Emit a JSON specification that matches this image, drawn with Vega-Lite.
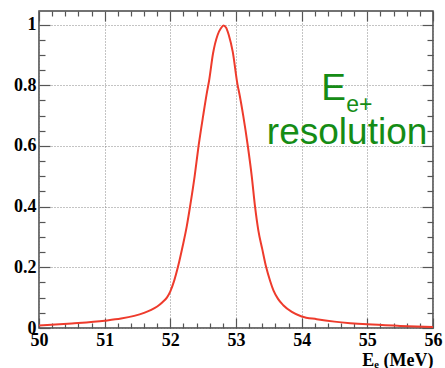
{
  "$schema": "https://vega.github.io/schema/vega-lite/v6.json",
  "width": 394,
  "height": 317,
  "autosize": {"type": "none"},
  "padding": {"left": 39, "top": 11, "right": 12, "bottom": 40},
  "background": "white",
  "config": {
    "view": {"stroke": "#444", "strokeWidth": 1.5},
    "axis": {"labelFont": "Liberation Serif", "labelFontWeight": "bold", "labelFontSize": 18, "labelColor": "#000"}
  },
  "data": {
    "values": [
      {"x": 50.0, "y": 0.008}, {"x": 50.5, "y": 0.015}, {"x": 51.0, "y": 0.024},
      {"x": 51.25, "y": 0.031}, {"x": 51.45, "y": 0.040}, {"x": 51.6, "y": 0.050},
      {"x": 51.7, "y": 0.059}, {"x": 51.8, "y": 0.071}, {"x": 51.88, "y": 0.085},
      {"x": 51.95, "y": 0.101}, {"x": 52.0, "y": 0.121}, {"x": 52.06, "y": 0.157},
      {"x": 52.12, "y": 0.205}, {"x": 52.19, "y": 0.272}, {"x": 52.25, "y": 0.335},
      {"x": 52.30, "y": 0.400}, {"x": 52.37, "y": 0.500}, {"x": 52.43, "y": 0.600},
      {"x": 52.50, "y": 0.700}, {"x": 52.56, "y": 0.780}, {"x": 52.59, "y": 0.815},
      {"x": 52.65, "y": 0.905}, {"x": 52.72, "y": 0.966}, {"x": 52.77, "y": 0.988},
      {"x": 52.81, "y": 0.997}, {"x": 52.85, "y": 0.990}, {"x": 52.89, "y": 0.966},
      {"x": 52.95, "y": 0.911}, {"x": 53.025, "y": 0.800}, {"x": 53.05, "y": 0.774},
      {"x": 53.11, "y": 0.700}, {"x": 53.18, "y": 0.600}, {"x": 53.24, "y": 0.500},
      {"x": 53.29, "y": 0.400}, {"x": 53.34, "y": 0.322}, {"x": 53.40, "y": 0.260},
      {"x": 53.46, "y": 0.200}, {"x": 53.52, "y": 0.155}, {"x": 53.57, "y": 0.124},
      {"x": 53.64, "y": 0.096}, {"x": 53.72, "y": 0.075}, {"x": 53.85, "y": 0.053},
      {"x": 54.0, "y": 0.038}, {"x": 54.23, "y": 0.029}, {"x": 54.5, "y": 0.021},
      {"x": 54.74, "y": 0.016}, {"x": 55.0, "y": 0.012}, {"x": 55.5, "y": 0.007},
      {"x": 56.0, "y": 0.003}
    ]
  },
  "resolve": {"axis": {"x": "independent", "y": "independent"}},
  "layer": [
    {
      "mark": {"type": "line", "color": "#ee3b2c", "strokeWidth": 2, "interpolate": "monotone", "clip": true},
      "encoding": {
        "x": {
          "field": "x", "type": "quantitative",
          "scale": {"domain": [50, 56], "nice": false, "zero": false},
          "axis": {
            "orient": "bottom",
            "values": [50,50.2,50.4,50.6,50.8,51,51.2,51.4,51.6,51.8,52,52.2,52.4,52.6,52.8,53,53.2,53.4,53.6,53.8,54,54.2,54.4,54.6,54.8,55,55.2,55.4,55.6,55.8,56],
            "labelExpr": "abs(datum.value - round(datum.value)) < 0.001 ? format(datum.value, 'd') : ''",
            "labelOverlap": false,
            "labelFlush": false,
            "tickSize": {"condition": {"test": "abs(datum.value - round(datum.value)) < 0.001", "value": -10}, "value": -5},
            "tickColor": "#555",
            "tickWidth": 1.2,
            "domain": false,
            "grid": true,
            "gridDash": [1, 2],
            "gridColor": "#888",
            "gridWidth": 1,
            "gridOpacity": {"condition": {"test": "abs(datum.value - round(datum.value)) < 0.001", "value": 1}, "value": 0},
            "labelFont": "Liberation Serif",
            "labelFontWeight": "bold",
            "labelFontSize": 18,
            "labelPadding": 13,
            "title": "Eₑ (MeV)",
            "titleFont": "Liberation Serif",
            "titleFontWeight": "bold",
            "titleFontSize": 18,
            "titleColor": "#000",
            "titleAnchor": "end",
            "titleAlign": "right",
            "titleBaseline": "alphabetic",
            "titleX": 394,
            "titleY": 37
          }
        },
        "y": {
          "field": "y", "type": "quantitative",
          "scale": {"domain": [0, 1.045], "nice": false},
          "axis": {
            "orient": "left",
            "values": [0, 0.2, 0.4, 0.6, 0.8, 1],
            "labelExpr": "format(datum.value, '.1~f')",
            "labelOverlap": false,
            "labelFlush": false,
            "tickSize": -11,
            "tickColor": "#555",
            "tickWidth": 1.2,
            "domain": false,
            "grid": true,
            "gridDash": [1, 2],
            "gridColor": "#888",
            "gridWidth": 1,
            "labelFont": "Liberation Serif",
            "labelFontWeight": "bold",
            "labelFontSize": 18,
            "labelPadding": 14,
            "title": null
          }
        }
      }
    },
    {
      "mark": {"type": "line", "opacity": 0},
      "encoding": {
        "x": {
          "field": "x", "type": "quantitative",
          "axis": {
            "orient": "top",
            "values": [50,50.2,50.4,50.6,50.8,51,51.2,51.4,51.6,51.8,52,52.2,52.4,52.6,52.8,53,53.2,53.4,53.6,53.8,54,54.2,54.4,54.6,54.8,55,55.2,55.4,55.6,55.8,56],
            "labels": false,
            "tickSize": {"condition": {"test": "abs(datum.value - round(datum.value)) < 0.001", "value": -10}, "value": -5},
            "tickColor": "#555",
            "tickWidth": 1.2,
            "domain": false,
            "grid": false,
            "title": null
          }
        },
        "y": {
          "field": "y", "type": "quantitative",
          "axis": {
            "orient": "right",
            "values": [0,0.05,0.1,0.15,0.2,0.25,0.3,0.35,0.4,0.45,0.5,0.55,0.6,0.65,0.7,0.75,0.8,0.85,0.9,0.95,1],
            "labels": false,
            "tickSize": {"condition": {"test": "abs(datum.value*5 - round(datum.value*5)) < 0.001", "value": -11}, "value": -6},
            "tickColor": "#555",
            "tickWidth": 1.2,
            "domain": false,
            "grid": false,
            "title": null
          }
        }
      }
    },
    {
      "mark": {"type": "line", "opacity": 0},
      "encoding": {
        "x": {"field": "x", "type": "quantitative", "axis": null},
        "y": {
          "field": "y", "type": "quantitative",
          "axis": {
            "orient": "left",
            "values": [0.05,0.1,0.15,0.25,0.3,0.35,0.45,0.5,0.55,0.65,0.7,0.75,0.85,0.9,0.95],
            "labels": false,
            "tickSize": -6,
            "tickColor": "#555",
            "tickWidth": 1.2,
            "domain": false,
            "grid": false,
            "title": null
          }
        }
      }
    },
    {
      "data": {"values": [{}]},
      "mark": {"type": "text", "text": "E", "font": "Liberation Sans", "fontSize": 37, "color": "#158c15", "align": "left", "baseline": "alphabetic"},
      "encoding": {
        "x": {"datum": 54.3, "type": "quantitative", "axis": null},
        "y": {"datum": 0.753, "type": "quantitative", "axis": null}
      }
    },
    {
      "data": {"values": [{}]},
      "mark": {"type": "text", "text": "e+", "font": "Liberation Sans", "fontSize": 23, "color": "#158c15", "align": "left", "baseline": "alphabetic"},
      "encoding": {
        "x": {"datum": 54.68, "type": "quantitative", "axis": null},
        "y": {"datum": 0.712, "type": "quantitative", "axis": null}
      }
    },
    {
      "data": {"values": [{}]},
      "mark": {"type": "text", "text": "resolution", "font": "Liberation Sans", "fontSize": 37, "color": "#158c15", "align": "left", "baseline": "alphabetic"},
      "encoding": {
        "x": {"datum": 53.47, "type": "quantitative", "axis": null},
        "y": {"datum": 0.608, "type": "quantitative", "axis": null}
      }
    }
  ]
}
